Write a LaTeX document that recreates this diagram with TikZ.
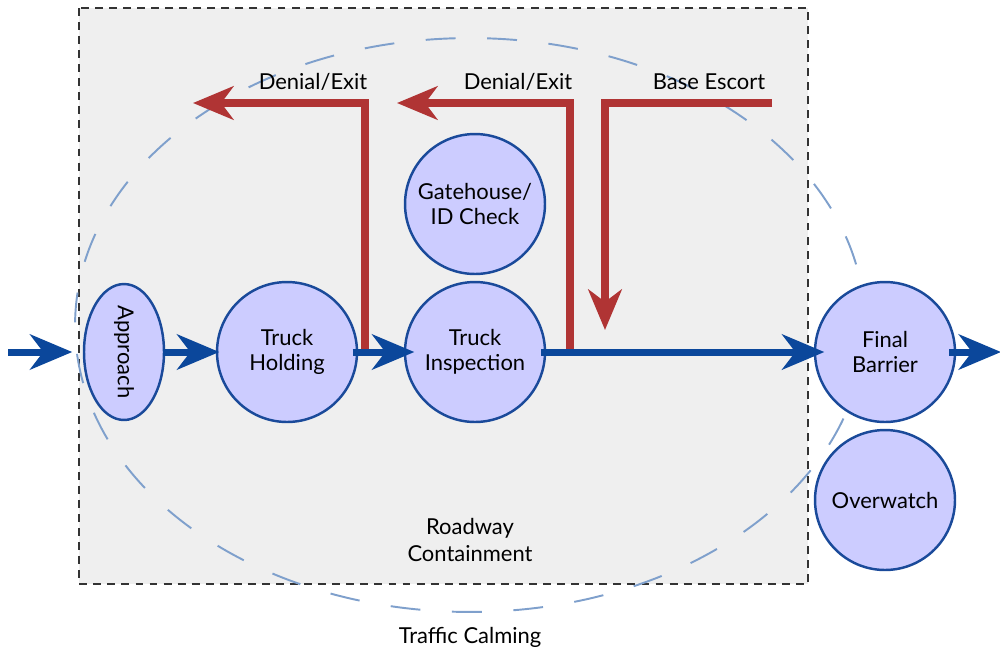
\documentclass[tikz,border=0pt]{standalone}
\usepackage{fontspec}
\setmainfont{Lato}
\usepackage{graphicx}
\usetikzlibrary{arrows.meta,shapes.geometric,calc}
\definecolor{nodefill}{HTML}{CCCCFF}
\definecolor{nodeline}{HTML}{1A4A9A}
\definecolor{flowblue}{HTML}{0B479B}
\definecolor{denyred}{HTML}{B03434}
\definecolor{zonegray}{HTML}{EFEFEF}
\definecolor{calmblue}{HTML}{7FA0CC}
\begin{document}
\begin{tikzpicture}[x=0.02cm,y=-0.02cm,
  txt/.style={font=\fontsize{12.5}{14.5}\selectfont, text=black},
  stage/.style={circle, draw=nodeline, line width=1.4pt, fill=nodefill,
    minimum size=2.8cm, inner sep=0pt, align=center, txt},
  oval/.style={ellipse, draw=nodeline, line width=1.4pt, fill=nodefill,
    minimum width=1.6cm, minimum height=2.72cm, inner sep=0pt, txt},
  flow/.style={draw=flowblue, line width=4pt,
    -{Stealth[length=24pt,width=20pt,inset=7.5pt]}},
  deny/.style={draw=denyred, line width=4pt,
    -{Stealth[length=23pt,width=19pt,inset=7pt]}},
  lbl/.style={txt, inner sep=0pt, align=center},
]
\useasboundingbox (0,0) rectangle (1000,654);
% zones
\draw[black!80, line width=0.6pt, dash pattern=on 4.5pt off 3.5pt, fill=zonegray]
  (79,8) rectangle (808,584);
\draw[calmblue, line width=1.1pt, dash pattern=on 17pt off 18pt]
  (470,325) ellipse [x radius=7.9cm, y radius=5.74cm];
% stages
\node[oval] (approach) at (124,352) {\rotatebox{-90}{Approach}};
\node[stage] (holding) at (287,352) {Truck\\Holding};
\node[stage] (gate) at (475,204) {Gatehouse/\\ID Check};
\node[stage] (inspect) at (475,352) {Truck\\Inspection};
\node[stage] (final) at (885,352) {Final\\Barrier};
\node[stage] (watch) at (885,500) {Overwatch};
% labels
\node[lbl] (d1lbl) at (313,82) {Denial/Exit};
\node[lbl] (d2lbl) at (518,82) {Denial/Exit};
\node[lbl] (esclbl) at (709,82) {Base Escort};
\node[lbl, font=\fontsize{12.5}{15}\selectfont] (road) at (470,540) {Roadway\\Containment};
\node[lbl] (calm) at (470,637) {Traffic Calming};
% red routes
\coordinate (d1foot) at (365,352);
\coordinate (d1tip) at (193,103);
\coordinate (d2foot) at (570,352);
\coordinate (d2tip) at (397,103);
\coordinate (escstart) at (772,103);
\coordinate (esctip) at (605,330);
\draw[deny] (d1foot) |- (d1tip);
\draw[deny] (d2foot) |- (d2tip);
\draw[deny] (escstart) -| (esctip);
% blue flow
\coordinate (entry) at (8,352);
\coordinate (exit) at (1001,352);
\draw[flow, shorten >=6pt] (entry) -- (approach.west);
\draw[flow, shorten <=-1pt, shorten >=-2pt] (approach.east) -- (holding.west);
\draw[flow, shorten <=-3pt, shorten >=-6pt] (holding.east) -- (inspect.west);
\draw[flow, shorten <=-3pt, shorten >=-6pt] (inspect.east) -- (final.west);
\draw[flow, shorten <=-4pt] (final.east) -- (exit);
\end{tikzpicture}
\end{document}
